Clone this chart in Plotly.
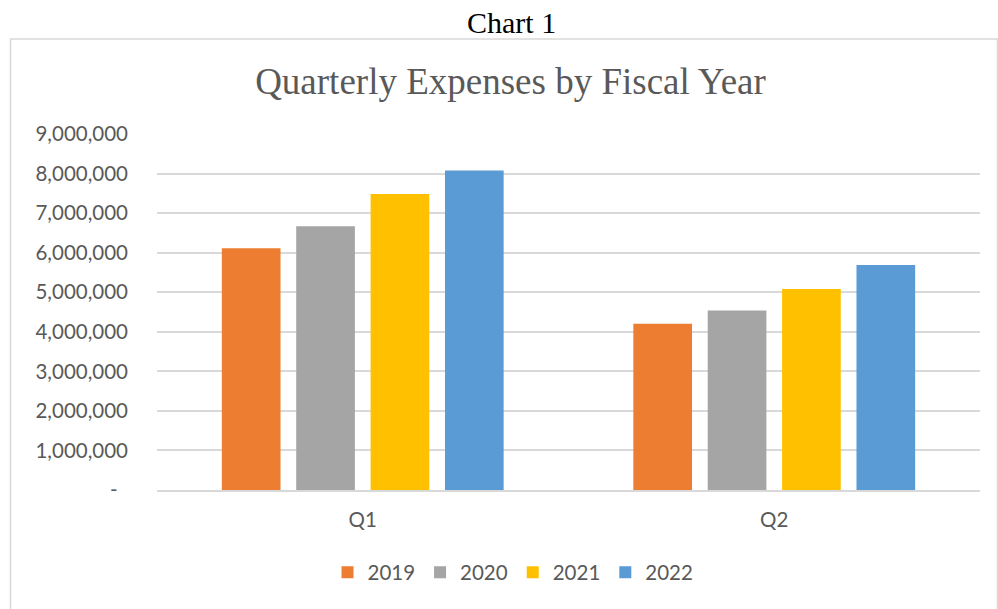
import plotly.graph_objects as go

quarters = ["Q1", "Q2"]
years = ["2019", "2020", "2021", "2022"]
expenses = {
    "2019": [6110000, 4200000],
    "2020": [6670000, 4540000],
    "2021": [7480000, 5080000],
    "2022": [8080000, 5690000],
}
colors = {"2019": "#ED7D31", "2020": "#A5A5A5", "2021": "#FFC000", "2022": "#5B9BD5"}
tick_vals = [0, 1000000, 2000000, 3000000, 4000000, 5000000, 6000000, 7000000, 8000000, 9000000]
tick_text = ["-\u00a0\u00a0", "1,000,000", "2,000,000", "3,000,000", "4,000,000",
             "5,000,000", "6,000,000", "7,000,000", "8,000,000", "9,000,000"]

W, H = 998, 609
L, R = 157, 980
T, B = 133.7, 490.5
pw, ph = R - L, B - T

def px(x):
    return (x - L) / pw

def py(y):
    return (B - y) / ph

fig = go.Figure()
for y in years:
    fig.add_trace(go.Bar(x=quarters, y=expenses[y], name=y,
                         marker=dict(color=colors[y], line=dict(width=0))))

grey = "#595959"
fig.update_layout(
    width=W, height=H,
    margin=dict(l=L, r=W - R, t=T, b=H - B, pad=0),
    paper_bgcolor="white", plot_bgcolor="white",
    barmode="group", bargap=0.277, bargroupgap=0.211,
    title=dict(text="Quarterly Expenses by Fiscal Year", x=510.5 / W, xanchor="center",
               y=1 - 81 / H, yanchor="middle",
               font=dict(family="Liberation Serif", size=37, color=grey)),
    font=dict(family="Lato", size=20, color=grey),
    showlegend=True,
    legend=dict(orientation="h", x=px(513), xanchor="center", y=py(573), yanchor="middle",
                font=dict(family="Lato", size=20.5, color=grey), itemwidth=30,
                bgcolor="rgba(0,0,0,0)"),
    xaxis=dict(showgrid=False, showline=True, linecolor="#d9d9d9", linewidth=1.5,
               ticks="", ticklabelstandoff=11, tickfont=dict(family="Lato", size=20.5, color=grey)),
    yaxis=dict(range=[0, 9000000], tickvals=tick_vals, ticktext=tick_text,
               showgrid=True, gridcolor="#d9d9d9", gridwidth=1.5, zeroline=False,
               showline=False, ticks="", ticklabelstandoff=28,
               tickfont=dict(family="Lato", size=20.5, color=grey)),
    shapes=[dict(type="rect", xref="paper", yref="paper",
                 x0=px(10.5), x1=px(997.5), y0=py(615), y1=py(38.5),
                 line=dict(color="#d9d9d9", width=1.5), fillcolor="rgba(0,0,0,0)", layer="below")],
    annotations=[dict(text="Chart 1", xref="paper", yref="paper", x=px(511), y=py(22),
                      xanchor="center", yanchor="middle", showarrow=False,
                      font=dict(family="Liberation Serif", size=30, color="black"))],
)

fig.write_html("out.html")
